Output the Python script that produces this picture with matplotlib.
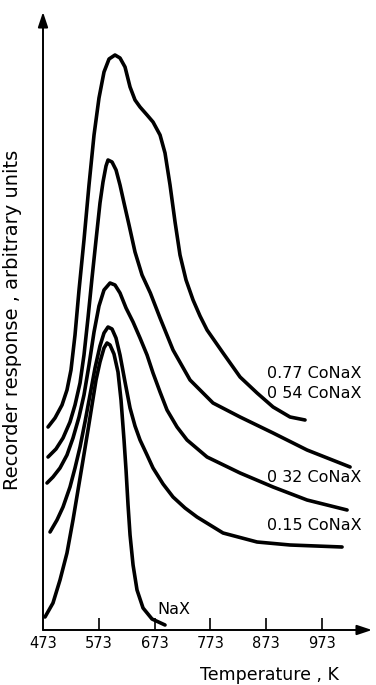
import matplotlib
matplotlib.use("Agg")
import matplotlib.pyplot as plt

# Temperature (K) and recorder response (arbitrary units)
nax_t = [476.6, 490.9, 503.5, 516.0, 526.8, 535.8, 544.8, 553.7, 560.9, 568.1,
         575.2, 582.4, 587.8, 593.2, 600.3, 607.5, 612.9, 618.3, 621.9, 625.5,
         629.1, 634.5, 641.6, 652.4, 668.5, 691.8]
nax_r = [1.3, 2.7, 5.0, 7.7, 11.0, 14.0, 17.0, 20.0, 22.5, 25.0,
         26.8, 28.2, 28.7, 28.5, 27.6, 25.8, 23.0, 19.0, 16.0, 12.5,
         9.5, 6.5, 4.0, 2.2, 1.1, 0.5]

co15_t = [485.6, 498.1, 508.9, 521.4, 530.4, 539.4, 548.3, 557.3, 566.3, 575.2,
          582.4, 589.6, 596.8, 603.9, 611.1, 620.1, 629.1, 638.0, 647.0, 659.6,
          670.3, 688.3, 706.2, 727.7, 749.2, 795.9, 856.9, 916.1, 1009.3]
co15_r = [9.8, 11.0, 12.3, 14.3, 16.2, 18.3, 20.8, 23.5, 26.2, 28.4,
          29.7, 30.3, 30.1, 29.2, 27.5, 24.8, 22.2, 20.4, 19.0, 17.5,
          16.2, 14.6, 13.3, 12.2, 11.3, 9.7, 8.8, 8.5, 8.3]

co32_t = [480.2, 490.9, 503.5, 516.0, 526.8, 537.6, 546.5, 555.5, 564.5, 573.4,
          582.4, 593.2, 602.1, 611.1, 621.9, 634.5, 647.0, 659.6, 670.3, 682.9,
          695.4, 713.4, 731.3, 767.2, 826.4, 885.6, 946.5, 1018.3]
co32_r = [14.7, 15.3, 16.2, 17.5, 19.2, 21.3, 23.5, 26.5, 29.8, 32.4,
          34.0, 34.7, 34.5, 33.7, 32.2, 30.8, 29.2, 27.5, 25.7, 23.8,
          22.0, 20.3, 19.0, 17.3, 15.7, 14.3, 13.0, 12.0]

co54_t = [482.0, 496.3, 508.9, 521.4, 530.4, 539.4, 546.5, 553.7, 560.9, 568.1,
          575.2, 580.6, 586.0, 589.6, 596.8, 604.0, 611.1, 618.3, 627.3, 638.0,
          650.6, 665.5, 682.9, 706.2, 736.7, 777.9, 826.4, 885.6, 946.5, 1023.7]
co54_r = [17.3, 18.1, 19.2, 20.8, 22.5, 24.7, 27.5, 31.2, 35.2, 39.0,
          42.7, 44.8, 46.4, 47.0, 46.8, 46.0, 44.5, 42.7, 40.5, 37.8,
          35.5, 33.7, 31.2, 28.0, 25.0, 22.7, 21.3, 19.7, 18.0, 16.3]

co77_t = [482.0, 494.5, 507.1, 516.0, 523.2, 530.4, 537.6, 546.5, 555.5, 564.5,
          573.4, 582.4, 591.4, 602.1, 611.1, 620.1, 629.1, 638.0, 647.0, 659.6,
          670.3, 682.9, 691.8, 700.8, 709.8, 718.7, 729.5, 742.1, 754.6, 767.2,
          795.9, 826.4, 856.9, 885.6, 916.0, 942.9]
co77_r = [20.3, 21.2, 22.5, 24.0, 26.0, 29.5, 34.0, 39.0, 44.5, 49.5,
          53.2, 55.8, 57.1, 57.5, 57.2, 56.3, 54.3, 53.0, 52.3, 51.5,
          50.8, 49.5, 47.7, 44.5, 40.8, 37.5, 35.0, 33.0, 31.4, 30.0,
          27.7, 25.3, 23.7, 22.3, 21.3, 21.0]

tick_vals = [473, 573, 673, 773, 873, 973]

fig = plt.figure(figsize=(3.76, 6.85), dpi=100)
ax = fig.add_axes([43 / 376, 55 / 685, 329 / 376, 618 / 685])

lw = 2.6
for t, r in [(nax_t, nax_r), (co15_t, co15_r), (co32_t, co32_r),
             (co54_t, co54_r), (co77_t, co77_r)]:
    ax.plot(t, r, color="black", lw=lw, solid_capstyle="round",
            solid_joinstyle="round")

# curve labels
lab = dict(fontsize=11.5, va="center", ha="left", color="black")
ax.text(874, 25.6, "0.77 CoNaX", **lab)
ax.text(874, 23.6, "0 54 CoNaX", **lab)
ax.text(874, 15.3, "0 32 CoNaX", **lab)
ax.text(874, 10.4, "0.15 CoNaX", **lab)
ax.text(679, 2.0, "NaX", **lab)

ax.set_xlim(473, 1063)
ax.set_ylim(0, 61.8)
for s in ax.spines.values():
    s.set_visible(False)

# axes with arrow heads
ax.annotate("", xy=(1, 0), xytext=(0, 0), xycoords="axes fraction",
            arrowprops=dict(arrowstyle="-|>,head_length=0.9,head_width=0.3",
                            color="black", lw=1.4, shrinkA=0, shrinkB=0))
ax.annotate("", xy=(0, 1), xytext=(0, 0), xycoords="axes fraction",
            arrowprops=dict(arrowstyle="-|>,head_length=0.9,head_width=0.3",
                            color="black", lw=1.4, shrinkA=0, shrinkB=0))

ax.set_xticks(tick_vals)
ax.set_xticklabels([str(v) for v in tick_vals])
ax.tick_params(axis="x", direction="in", length=8.5, width=1.2, pad=4,
               labelsize=10.5)
ax.xaxis.get_major_ticks()[0].tick1line.set_visible(False)
ax.set_yticks([])

fig.text(269 / 376, 1 - 675 / 685, "Temperature , K", ha="center",
         va="center", fontsize=12.5)
fig.text(13 / 376, 1 - 320 / 685, "Recorder response , arbitrary units",
         ha="center", va="center", rotation=90, fontsize=14)

fig.savefig("out.png", dpi=100)
